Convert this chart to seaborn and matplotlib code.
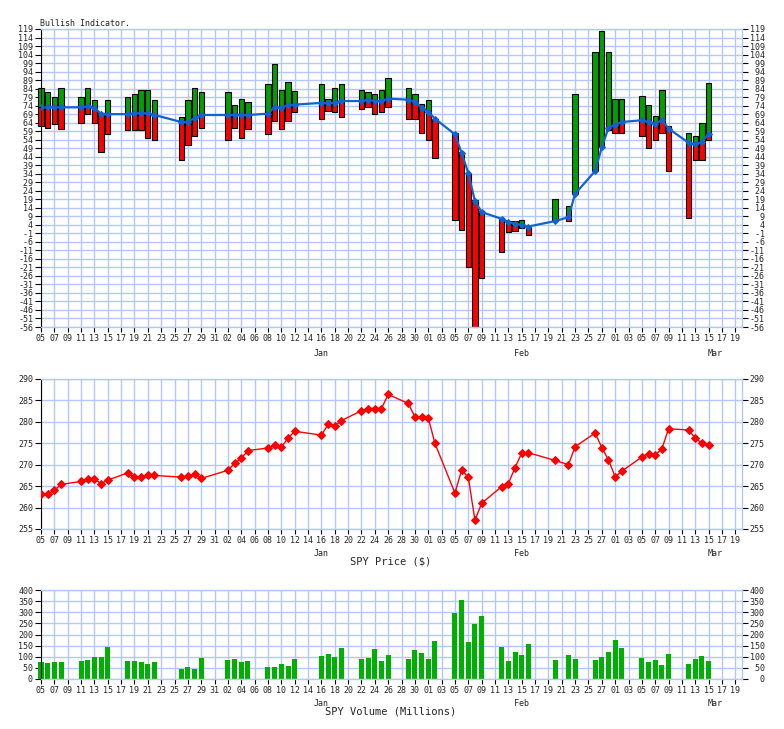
import numpy as np
import pandas as pd
import matplotlib
matplotlib.use("Agg")
import matplotlib.pyplot as plt
import matplotlib.transforms as mtransforms
import seaborn as sns

# trading days shown on all three panels
dates = [
    "2017-12-05", "2017-12-06", "2017-12-07", "2017-12-08", "2017-12-11", "2017-12-12",
    "2017-12-13", "2017-12-14", "2017-12-15", "2017-12-18", "2017-12-19", "2017-12-20",
    "2017-12-21", "2017-12-22", "2017-12-26", "2017-12-27", "2017-12-28", "2017-12-29",
    "2018-01-02", "2018-01-03", "2018-01-04", "2018-01-05", "2018-01-08", "2018-01-09",
    "2018-01-10", "2018-01-11", "2018-01-12", "2018-01-16", "2018-01-17", "2018-01-18",
    "2018-01-19", "2018-01-22", "2018-01-23", "2018-01-24", "2018-01-25", "2018-01-26",
    "2018-01-29", "2018-01-30", "2018-01-31",
    "2018-02-01", "2018-02-02", "2018-02-05", "2018-02-06", "2018-02-07", "2018-02-08",
    "2018-02-09", "2018-02-12", "2018-02-13", "2018-02-14", "2018-02-15", "2018-02-16",
    "2018-02-20", "2018-02-22", "2018-02-23", "2018-02-26", "2018-02-27", "2018-02-28",
    "2018-03-01", "2018-03-02", "2018-03-05", "2018-03-06", "2018-03-07", "2018-03-08",
    "2018-03-09", "2018-03-12", "2018-03-13", "2018-03-14", "2018-03-15",
]

bull_high = [
    84.4, 82.2, 79.1, 84.4, 79.1, 84.4, 77.5, 69.5, 77.5, 79.3, 81.1, 83.4, 83.4, 77.5, 67.3, 77.5, 84.6, 82.2,
    82.2, 74.6, 78.1, 76.4, 86.5, 98.3, 83.4, 88.1, 82.4, 86.5, 78.1, 84.6, 86.5, 83.4, 82.2, 81.1, 83.4, 90.5, 84.6, 81.1, 75.0,
    77.5, 66.4, 58.1, 46.7, 34.0, 18.3, 12.0, 8.1, 6.0, 6.2, 7.0, 3.0, 19.3, 15.1, 81.1, 105.2, 117.7, 105.2,
    78.1, 78.1, 79.5, 74.6, 68.1, 83.4, 62.0, 58.1, 56.4, 64.0, 87.5,
]
bull_low = [
    62.2, 61.0, 63.4, 60.5, 64.0, 69.3, 64.0, 47.0, 57.5, 59.5, 59.5, 59.5, 55.2, 54.0, 42.2, 51.1, 56.4, 61.1,
    54.0, 61.1, 55.2, 60.5, 57.5, 65.2, 60.5, 65.2, 70.5, 66.4, 71.1, 70.5, 67.5, 72.2, 73.4, 69.3, 70.5, 73.4, 66.4, 66.4, 58.1,
    54.0, 43.4, 6.9, 1.1, -20.7, -55.8, -27.2, -11.9, -0.3, 0.1, 2.0, -1.7, 6.0, 6.5, 22.2, 35.6, 49.5, 59.9,
    58.1, 58.1, 56.4, 49.3, 53.6, 58.1, 35.4, 8.1, 42.2, 42.2, 53.6,
]
# where the bar turns from red (below) to green (above)
bull_split = [
    73.0, 73.0, 73.0, 73.0, 73.0, 73.6, 72.6, 69.5, 69.0, 69.0, 69.5, 69.5, 69.5, 68.5, 64.4, 64.6, 66.5, 68.5,
    68.5, 68.5, 68.5, 68.5, 69.3, 73.2, 72.6, 74.4, 74.6, 75.6, 75.4, 75.8, 76.7, 76.7, 77.5, 76.7, 76.7, 78.1, 77.5, 76.4, 75.0,
    70.3, 66.4, 58.1, 46.7, 34.0, 18.3, 12.0, 8.1, 6.0, 4.6, 4.0, 3.0, 6.0, 8.5, 22.2, 35.6, 49.5, 61.0,
    62.8, 64.4, 65.4, 64.4, 63.4, 65.4, 60.5, 52.2, 51.3, 52.6, 57.5,
]
bull_line = [
    73.0, 73.0, 73.0, 73.0, 73.0, 73.6, 72.6, 69.3, 69.0, 69.0, 69.5, 69.5, 69.5, 68.5, 64.4, 64.6, 66.5, 68.5,
    68.5, 68.5, 68.5, 68.5, 69.3, 73.2, 72.6, 74.4, 74.6, 75.6, 75.4, 75.8, 76.7, 76.7, 77.5, 76.7, 76.7, 78.1, 77.5, 76.4, 72.8,
    70.3, 66.4, 57.1, 46.2, 34.4, 17.9, 11.5, 7.5, 5.6, 4.6, 4.0, 3.0, 6.2, 8.5, 22.2, 35.6, 49.5, 61.0,
    62.8, 64.4, 65.4, 64.4, 63.4, 65.4, 60.5, 52.2, 51.3, 52.6, 57.5,
]

spy_price = [
    263.1, 263.2, 264.0, 265.4, 266.1, 266.7, 266.7, 265.6, 266.4, 268.1, 267.1, 267.1, 267.5, 267.5, 267.1, 267.3, 267.8, 266.8,
    268.7, 270.3, 271.5, 273.3, 273.9, 274.5, 274.1, 276.2, 277.8, 276.9, 279.4, 279.0, 280.3, 282.6, 283.1, 283.1, 283.1, 286.4,
    284.3, 281.2, 281.2,
    281.0, 275.0, 263.4, 268.7, 267.1, 257.0, 261.0, 264.9, 265.6, 269.3, 272.7, 272.8, 271.0, 270.0, 274.2, 277.4, 274.0, 271.1,
    267.2, 268.5, 271.8, 272.6, 272.3, 273.7, 278.4, 278.1, 276.2, 275.0, 274.7,
]

spy_volume = [
    78, 73, 78, 78, 82, 87, 100, 100, 145, 82, 82, 78, 69, 78, 46, 55, 46, 96,
    87, 91, 78, 82, 55, 55, 69, 60, 91, 104, 113, 100, 140, 91, 96, 136, 82, 109, 91, 131, 118,
    91, 172, 297, 355, 167, 248, 284, 145, 82, 122, 109, 158, 87, 109, 91, 87, 100, 122,
    176, 140, 96, 78, 87, 64, 113, 69, 91, 104, 82,
]

month_names = ["Jan", "Feb", "Mar"]
month_mid = ["2018-01-16", "2018-02-15", "2018-03-16"]

sns.set_theme(style="white")
plt.rcParams["font.family"] = ["DejaVu Sans Mono"]

grid_c = "#b4c8ff"
blue = "#1262d0"

df = pd.DataFrame({
    "date": pd.to_datetime(dates),
    "high": bull_high,
    "low": bull_low,
    "split": bull_split,
    "line": bull_line,
    "price": spy_price,
    "volume": spy_volume,
})

W, H = 784, 729
fig = plt.figure(figsize=(W / 100, H / 100), dpi=100)


def add_panel(top, bottom):
    return fig.add_axes([41 / W, 1 - bottom / H, 701 / W, (bottom - top) / H])


ax1 = add_panel(29, 327)
ax2 = add_panel(379, 529)
ax3 = add_panel(590, 679)

x0 = pd.Timestamp("2017-12-05")
x1 = pd.Timestamp("2018-03-20")
xticks = pd.date_range("2017-12-05", "2018-03-19", freq="2D")


def style(ax, yticks, month_y):
    ax.set_xlim(x0, x1)
    ax.set_xticks(xticks)
    ax.set_xticklabels([d.strftime("%d") for d in xticks])
    ax.set_yticks(yticks)
    ax.set_yticklabels([str(v).rjust(3) for v in yticks])
    ax.set_ylim(yticks[0], yticks[-1])
    ax.grid(True, color=grid_c, lw=1.0)
    ax.set_axisbelow(True)
    ax.tick_params(axis="y", left=True, right=True, labelleft=True, labelright=True,
                   length=4, width=0.8, color="black", labelsize=6, pad=1.5)
    ax.tick_params(axis="x", bottom=True, length=3.5, width=0.8, color="black",
                   labelsize=6, pad=1.5)
    ax.set_xlabel("")
    ax.set_ylabel("")
    for s in ax.spines.values():
        s.set_color(grid_c)
        s.set_linewidth(1.0)
    ax.spines["left"].set_color("black")
    ax.spines["left"].set_linewidth(0.8)
    trans = mtransforms.blended_transform_factory(ax.transData, fig.transFigure)
    for name, mid in zip(month_names, month_mid):
        ax.text(pd.Timestamp(mid), 1 - month_y / H, name, transform=trans,
                ha="center", va="center", fontsize=6)


# Bullish indicator
hi = df["high"].to_numpy()
lo = df["low"].to_numpy()
sp = df["split"].to_numpy()
red_top = np.minimum(sp, hi)
green_bot = np.maximum(sp, lo)
rmask = red_top - lo > 0.05
gmask = hi - green_bot > 0.05
bars_r = ax1.bar(df["date"][rmask], (red_top - lo)[rmask], bottom=lo[rmask], width=0.8,
                 color="#ff0000", edgecolor="black", linewidth=0.8, zorder=2)
bars_g = ax1.bar(df["date"][gmask], (hi - green_bot)[gmask], bottom=green_bot[gmask], width=0.8,
                 color="#00a000", edgecolor="black", linewidth=0.8, zorder=2)
for p in list(bars_r) + list(bars_g):
    p.set_clip_on(False)
sns.lineplot(data=df, x="date", y="line", ax=ax1, color=blue, lw=1.6, marker="D",
             markersize=3, markeredgecolor=blue, zorder=3)
style(ax1, list(range(-56, 120, 5)), 353)
fig.text(40 / W, 1 - 23 / H, "Bullish Indicator.", fontsize=6, ha="left", va="center")

# SPY price
sns.lineplot(data=df, x="date", y="price", ax=ax2, color="#ff0000", lw=1, marker="D",
             markersize=4, markeredgecolor="#ff0000", zorder=3)
style(ax2, list(range(255, 291, 5)), 553)
fig.text(391 / W, 1 - 561 / H, "SPY Price ($)", fontsize=7.5, ha="center", va="center")

# SPY volume
bars_v = ax3.bar(df["date"], df["volume"], width=0.75, color="#00b000", linewidth=0, zorder=2)
for p in bars_v:
    p.set_clip_on(False)
style(ax3, list(range(0, 401, 50)), 703)
fig.text(391 / W, 1 - 711 / H, "SPY Volume (Millions)", fontsize=7.5, ha="center", va="center")

fig.savefig("out.png", dpi=100, facecolor="white")
